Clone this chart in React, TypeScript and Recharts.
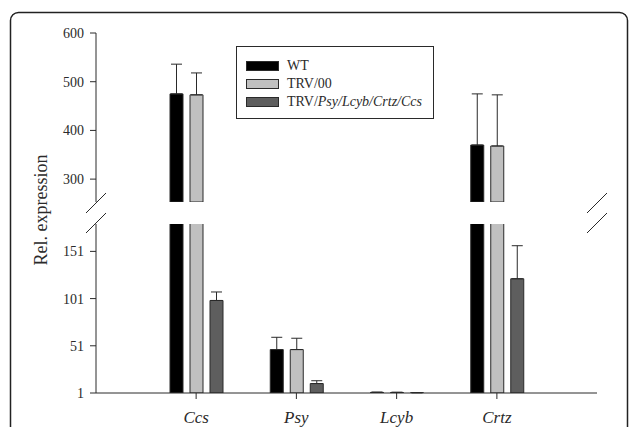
import React from 'react'
import { BarChart, Bar, XAxis, YAxis, ErrorBar, Legend, Rectangle } from 'recharts'

const genes = ['Ccs', 'Psy', 'Lcyb', 'Crtz']
const wtMean = [475, 47, 1.6, 370]
const wtErr = [61, 13, 0.4, 105]
const trvMean = [473, 47, 1.5, 368]
const trvErr = [45, 12, 0.4, 105]
const silMean = [99, 11, 1.2, 122]
const silErr = [9, 3, 0.2, 35]
const upperTicks = [300, 400, 500, 600]
const lowerTicks = [1, 51, 101, 151]

// axis break: lower segment 1..180, upper segment 253..600
const UPPER_MIN = 253
const LOWER_MAX = 180

const series = [
  { key: 'wt', name: 'WT', fill: '#000000' },
  { key: 'trv', name: 'TRV/00', fill: '#c0c0c0' },
  { key: 'sil', name: 'TRV/Psy/Lcyb/Crtz/Ccs', fill: '#5e5e5e' },
]

const data = genes.map((gene, i) => ({
  gene,
  wt: wtMean[i],
  wtErr: [0, wtErr[i]],
  trv: trvMean[i],
  trvErr: [0, trvErr[i]],
  sil: silMean[i],
  silErr: [0, silErr[i]],
}))

const FONT = '"Liberation Serif", "DejaVu Serif", serif'
const INK = '#2a2a2a'

const renderLabel = (name: string) => {
  const parts = name.split('/')
  if (parts.length <= 2) return name
  return (
    <>
      {parts[0]}/<i>{parts.slice(1).join('/')}</i>
    </>
  )
}

const LegendBox = () => (
  <div
    style={{
      width: 198,
      height: 73,
      boxSizing: 'border-box',
      border: `1px solid ${INK}`,
      background: '#fff',
      padding: '10px 0 0 9px',
      fontFamily: FONT,
    }}
  >
    {series.map((s) => (
      <div key={s.key} style={{ display: 'flex', alignItems: 'center', height: 18 }}>
        <span
          style={{
            display: 'inline-block',
            width: 33,
            height: 10,
            boxSizing: 'border-box',
            background: s.fill,
            border: `1px solid ${INK}`,
            marginRight: 8,
          }}
        />
        <span style={{ fontSize: 14, color: INK, lineHeight: '18px' }}>{renderLabel(s.name)}</span>
      </div>
    ))}
  </div>
)

const bars = (upper: boolean) =>
  series.map((s) => (
    <Bar
      key={s.key}
      dataKey={s.key}
      name={s.name}
      fill={s.fill}
      stroke={INK}
      strokeWidth={1}
      isAnimationActive={false}
      shape={(p: any) =>
        upper && p.payload[s.key] <= UPPER_MIN ? <g /> : <Rectangle {...p} />
      }
    >
      <ErrorBar dataKey={`${s.key}Err`} width={5.5} stroke={INK} strokeWidth={1} direction="y" />
    </Bar>
  ))

const tickStyle = { fontSize: 14, fill: INK, style: { fontFamily: FONT } }
const xPad = { left: 50, right: 50 }

export default function App() {
  return (
    <div
      style={{
        position: 'absolute',
        left: 0,
        top: 0,
        width: 629,
        height: 427,
        background: '#fff',
        fontFamily: FONT,
        overflow: 'hidden',
      }}
    >
      <div style={{ position: 'absolute', left: 0, top: 0 }}>
        <BarChart
          width={629}
          height={210}
          data={data}
          margin={{ top: 33, right: 32, bottom: 8, left: 56 }}
          barSize={13}
          barGap={7}
          style={{ fontFamily: FONT }}
        >
          <XAxis dataKey="gene" hide padding={xPad} />
          <XAxis xAxisId="top" orientation="top" dataKey="gene" tick={false} tickLine={false} height={0} stroke={INK} />
          <YAxis
            width={40}
            domain={[UPPER_MIN, 600]}
            ticks={upperTicks}
            allowDataOverflow
            tickSize={6}
            tickMargin={6}
            tick={tickStyle}
            stroke={INK}
          />
          <YAxis yAxisId="right" orientation="right" width={0} tick={false} tickLine={false} stroke={INK} />
          {bars(true)}
          <Legend
            layout="horizontal"
            align="center"
            verticalAlign="middle"
            content={() => <LegendBox />}
            wrapperStyle={{ left: 236, top: 46, width: 198 }}
          />
        </BarChart>
      </div>
      <div style={{ position: 'absolute', left: 0, top: 214 }}>
        <BarChart
          width={629}
          height={213}
          data={data}
          margin={{ top: 10, right: 32, bottom: 4, left: 56 }}
          barSize={13}
          barGap={7}
          style={{ fontFamily: FONT }}
        >
          <XAxis
            dataKey="gene"
            padding={xPad}
            height={30}
            tickSize={6}
            tickMargin={12}
            tick={{ fontSize: 17, fill: INK, style: { fontFamily: FONT, fontStyle: 'italic' } }}
            stroke={INK}
          />
          <YAxis
            width={40}
            domain={[1, LOWER_MAX]}
            ticks={lowerTicks}
            allowDataOverflow
            tickSize={6}
            tickMargin={6}
            tick={tickStyle}
            stroke={INK}
          />
          <YAxis yAxisId="right" orientation="right" width={0} tick={false} tickLine={false} stroke={INK} />
          {bars(false)}
        </BarChart>
      </div>
      <svg
        width={629}
        height={427}
        style={{ position: 'absolute', left: 0, top: 0, pointerEvents: 'none' }}
      >
        <rect x={10.5} y={12.5} width={617} height={440} rx={8} fill="none" stroke="#222" strokeWidth={1.5} />
        <g stroke={INK} strokeWidth={1}>
          <line x1={86} y1={213} x2={106} y2={193} />
          <line x1={86} y1={233} x2={106} y2={213} />
          <line x1={587} y1={213} x2={607} y2={193} />
          <line x1={587} y1={233} x2={607} y2={213} />
        </g>
        <text
          x={47}
          y={210}
          transform="rotate(-90 47 210)"
          textAnchor="middle"
          fontSize={18}
          fill={INK}
          style={{ fontFamily: FONT }}
        >
          Rel. expression
        </text>
      </svg>
    </div>
  )
}
